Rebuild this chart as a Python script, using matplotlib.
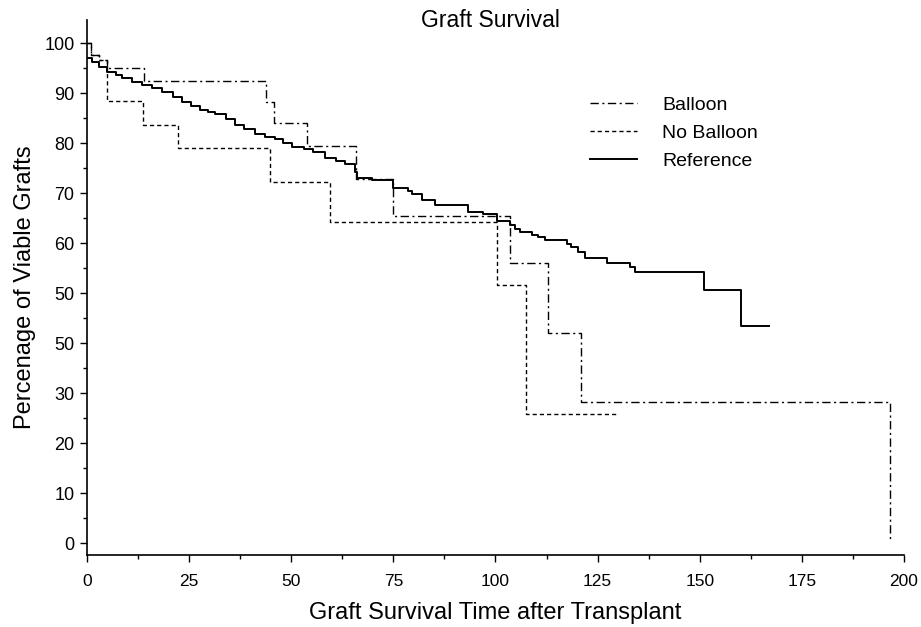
import numpy as np
import matplotlib
matplotlib.use("Agg")
import matplotlib.pyplot as plt
from matplotlib.ticker import MultipleLocator

plt.rcParams['font.family'] = ['Liberation Sans', 'DejaVu Sans']

# step curves (time where level starts, survival % from that time)
balloon_t = [0, 1.0, 3.0, 4.9, 13.9, 43.7, 45.8, 53.8, 65.8, 74.8, 103.6, 112.9, 120.9, 196.5]
balloon_s = [100, 97.7, 96.6, 95.1, 92.4, 88.3, 84.1, 79.5, 72.8, 65.5, 56.1, 42.1, 28.3, 0.7]

noballoon_t = [0, 1.0, 3.0, 4.9, 13.7, 22.3, 44.8, 59.6, 100.3, 107.4, 129.7]
noballoon_s = [100, 97.7, 96.6, 88.5, 83.6, 79.0, 72.3, 64.3, 51.6, 25.9, 25.9]

ref_t = [0, 1.2, 3, 5, 7, 8.6, 11, 13.5, 16, 18.4, 21, 23.3, 25.5, 27.7, 29.5,
         31.3, 34, 36.2, 38.5, 41.1, 43.5, 46, 48, 50.1, 53, 55.3, 58.3, 61,
         63.2, 65.6, 66.1, 69.7, 75, 78.5, 79.5, 81.9, 85.2, 93.3, 97, 100.3,
         103.5, 104.8, 106, 108.9, 110.5, 112.1, 117.4, 118.5, 120.3, 121.9,
         127.2, 133, 134.1, 151, 160, 166.9]
ref_s = [97.1, 96.2, 95.3, 94.3, 93.6, 93.0, 92.3, 91.6, 91.0, 90.3, 89.3, 88.3,
         87.5, 86.6, 86.3, 85.9, 84.8, 83.6, 82.8, 81.9, 81.3, 80.8, 80.1, 79.3,
         78.8, 78.3, 77.1, 76.5, 75.9, 74.3, 73.1, 72.7, 71.1, 70.5, 69.9, 68.6,
         67.7, 66.3, 65.9, 64.5, 63.6, 62.8, 62.3, 61.7, 61.2, 60.6, 59.8, 59.3,
         58.3, 57.0, 56.1, 55.3, 54.3, 50.6, 43.4, 43.4]

y_ticks = [100, 90, 80, 70, 60, 50, 40, 30, 20, 10, 0]
y_tick_labels = ['100', '90', '80', '70', '60', '50', '50', '30', '20', '10', '0']
x_ticks = [0, 25, 50, 75, 100, 125, 150, 175, 200]

fig = plt.figure(figsize=(9.21, 6.27), dpi=100)
ax = fig.add_axes([0.0945, 0.1148, 0.887, 0.853])

ax.step(balloon_t, balloon_s, where='post', color='black', lw=1.0,
        dashes=[6, 2.5, 1.5, 2.5], label='Balloon')
ax.step(noballoon_t, noballoon_s, where='post', color='black', lw=1.0,
        dashes=[3, 2.2], label='No Balloon')
ax.step(ref_t, ref_s, where='post', color='black', lw=1.4, label='Reference')

ax.set_xlim(0, 200)
ax.set_ylim(-2.4, 104.6)
ax.set_xticks(x_ticks)
ax.set_yticks(y_ticks)
ax.set_yticklabels(y_tick_labels)
ax.xaxis.set_minor_locator(MultipleLocator(12.5))
ax.yaxis.set_minor_locator(MultipleLocator(5))
ax.tick_params(which='major', length=5, width=1)
ax.tick_params(axis='x', which='major', labelsize=12.5, pad=9)
ax.tick_params(axis='y', which='major', labelsize=13, pad=4)
ax.tick_params(which='minor', length=3, width=1)
for s in ['top', 'right']:
    ax.spines[s].set_visible(False)
for s in ['left', 'bottom']:
    ax.spines[s].set_linewidth(1.2)

ax.set_xlabel("Graft Survival Time after Transplant", fontsize=17, labelpad=9)
ax.set_ylabel("Percenage of Viable Grafts", fontsize=17, labelpad=6)
fig.text(0.532, 0.986, "Graft Survival", ha='center', va='top', fontsize=16.5)

ax.legend(loc='upper left', bbox_to_anchor=(590 / 921, 1 - 96 / 627),
          bbox_transform=fig.transFigure, frameon=False, fontsize=14,
          handlelength=2.4, handletextpad=1.3, labelspacing=0.55,
          borderpad=0, borderaxespad=0)

fig.savefig("out.png", dpi=100)
